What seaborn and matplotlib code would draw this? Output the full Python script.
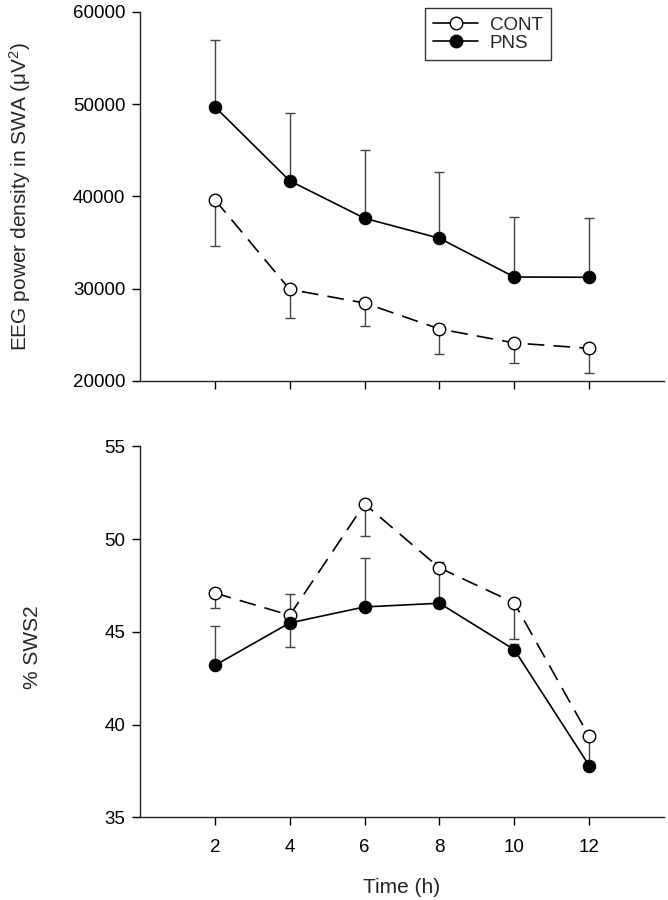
import numpy as np
import matplotlib
matplotlib.use('Agg')
import matplotlib.pyplot as plt
from matplotlib.lines import Line2D
import seaborn as sns

# data
hours = [2, 4, 6, 8, 10, 12]

cont_eeg = [39640, 29930, 28450, 25640, 24120, 23540]
cont_eeg_sem = [5050, 3140, 2490, 2680, 2210, 2720]      # drawn downward
pns_eeg = [49720, 41700, 37640, 35470, 31270, 31240]
pns_eeg_sem = [7250, 7330, 7420, 7170, 6490, 6450]       # drawn upward

cont_sws2 = [47.1, 45.9, 51.9, 48.46, 46.57, 39.37]
cont_sws2_sem = [0.8, 1.7, 1.7, 0.2, 1.93, 0.2]
pns_sws2 = [43.2, 45.49, 46.35, 46.55, 44.05, 37.8]
pns_sws2_sem = [2.1, 1.58, 2.62, 2.2, 0.3, 1.84]

sns.set_style('ticks')
plt.rcParams['font.family'] = ['Liberation Sans', 'DejaVu Sans']
plt.rcParams['mathtext.fontset'] = 'custom'
plt.rcParams['mathtext.rm'] = 'Liberation Sans'

fig = plt.figure(figsize=(6.68, 9), dpi=100)
ax1 = fig.add_axes([0.2096, 0.5767, 0.7844, 0.41])
ax2 = fig.add_axes([0.2096, 0.0917, 0.7844, 0.4122])

dash = (0, (10, 5.5))
err_col = '#444444'


def draw_panel(ax, cont, cont_sem, pns, pns_sem):
    zeros = np.zeros(len(hours))
    ax.errorbar(hours, cont, yerr=[cont_sem, zeros], fmt='none', ecolor=err_col,
                elinewidth=1, capsize=3.5, capthick=1, zorder=1)
    ax.errorbar(hours, pns, yerr=[zeros, pns_sem], fmt='none', ecolor=err_col,
                elinewidth=1, capsize=3.5, capthick=1, zorder=1)
    sns.lineplot(x=hours, y=cont, ax=ax, color='black', lw=1.2, linestyle=dash,
                 marker='o', markersize=9, markerfacecolor='white',
                 markeredgecolor='black', markeredgewidth=1, zorder=3)
    sns.lineplot(x=hours, y=pns, ax=ax, color='black', lw=1.2,
                 marker='o', markersize=9, markerfacecolor='black',
                 markeredgecolor='black', zorder=3)
    ax.set_xlim(0, 14)
    ax.set_xticks(hours)
    sns.despine(ax=ax)
    ax.tick_params(direction='out', length=5.5, width=1, labelsize=13.5, colors='black')
    ax.tick_params(axis='x', pad=10)
    ax.tick_params(axis='y', pad=5)
    for s in ['left', 'bottom']:
        ax.spines[s].set_linewidth(1)
        ax.spines[s].set_color('#222222')


draw_panel(ax1, cont_eeg, cont_eeg_sem, pns_eeg, pns_eeg_sem)
ax1.set_ylim(20000, 60000)
ax1.set_yticks([20000, 30000, 40000, 50000, 60000])
ax1.tick_params(labelbottom=False)
ax1.set_xlabel('')
ax1.set_ylabel(r'EEG power density in SWA ($\mathregular{\mu V^2}$)', fontsize=15)
ax1.yaxis.set_label_coords(-0.204, 0.5)

handles = [
    Line2D([], [], color='black', lw=1.2, marker='o', markersize=9,
           markerfacecolor='white', markeredgecolor='black'),
    Line2D([], [], color='black', lw=1.2, marker='o', markersize=9,
           markerfacecolor='black', markeredgecolor='black'),
]
leg = ax1.legend(handles, ['CONT', 'PNS'], loc='upper left', bbox_to_anchor=(0.544, 1.01),
                 borderaxespad=0, frameon=True, fancybox=False, fontsize=13.5,
                 handlelength=2.4, labelspacing=0.05, borderpad=0.45, handletextpad=0.6)
leg.get_frame().set_edgecolor('black')
leg.get_frame().set_linewidth(1)

draw_panel(ax2, cont_sws2, cont_sws2_sem, pns_sws2, pns_sws2_sem)
ax2.set_ylim(35, 55)
ax2.set_yticks([35, 40, 45, 50, 55])
ax2.set_xlabel('Time (h)', fontsize=15, labelpad=16)
ax2.set_ylabel('% SWS2', fontsize=15)
ax2.yaxis.set_label_coords(-0.187, 0.46)

fig.savefig('out.png', dpi=100)
